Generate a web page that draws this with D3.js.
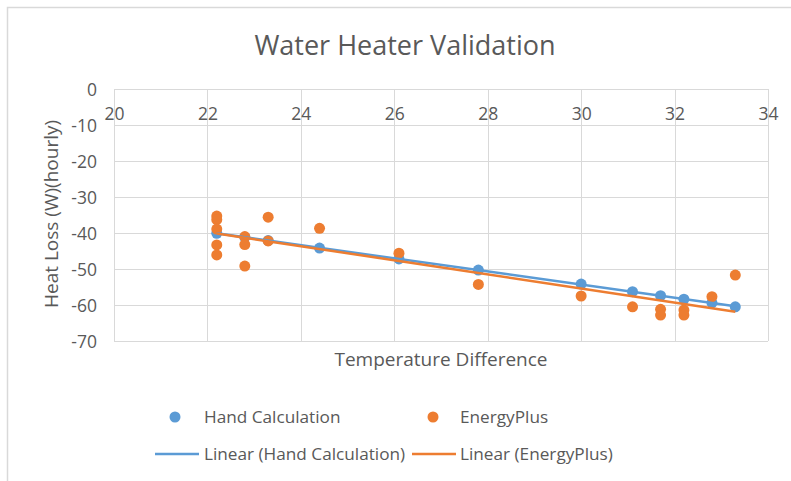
<!DOCTYPE html>
<html>
<head>
<meta charset="utf-8">
<script src="https://cdn.jsdelivr.net/npm/d3@7"></script>
<style>
  html, body { margin: 0; padding: 0; background: #fff; }
  svg { display: block; }
  text { font-family: "Open Sans", "Lato", sans-serif; }
</style>
</head>
<body>
<svg id="chart" width="791" height="481"></svg>
<script>
// ---- Data ----
const chartTitle = "Water Heater Validation";
const xAxisTitle = "Temperature Difference";
const yAxisTitle = "Heat Loss (W)(hourly)";
const xTicks = [20, 22, 24, 26, 28, 30, 32, 34];
const yTicks = [0, -10, -20, -30, -40, -50, -60, -70];

// Hand Calculation series
const handX = [22.2, 22.8, 23.3, 24.4, 26.1, 27.8, 30.0, 31.1, 31.7, 32.2, 32.8, 33.3];
const handY = [-40.1, -41.2, -42.1, -44.2, -47.2, -50.3, -54.2, -56.3, -57.4, -58.4, -59.4, -60.5];

// EnergyPlus series
const epX = [22.2, 22.2, 22.2, 22.2, 22.2, 22.8, 22.8, 22.8, 23.3, 23.3, 24.4, 26.1, 27.8, 30.0, 31.1, 31.7, 31.7, 32.2, 32.2, 32.8, 33.3];
const epY = [-35.3, -36.3, -38.9, -43.3, -46.1, -41.0, -43.2, -49.2, -35.6, -42.2, -38.7, -45.6, -54.3, -57.5, -60.5, -61.2, -62.8, -61.4, -62.8, -57.7, -51.7];

const seriesNames = ["Hand Calculation", "EnergyPlus"];
const trendNames = ["Linear (Hand Calculation)", "Linear (EnergyPlus)"];
const colors = ["#5B9BD5", "#ED7D31"];

// ---- Layout ----
const svg = d3.select("#chart");
const plot = { left: 114, right: 768, top: 89, bottom: 341 };

const x = d3.scaleLinear().domain([20, 34]).range([plot.left, plot.right]);
const y = d3.scaleLinear().domain([0, -70]).range([plot.top, plot.bottom]);

// Chart frame (partial, as visible)
svg.append("path")
  .attr("d", `M7.5,481 L7.5,7.5 L791,7.5`)
  .attr("fill", "none").attr("stroke", "#D9D9D9").attr("stroke-width", 1.5);

// Title
svg.append("text")
  .attr("x", 405).attr("y", 55)
  .attr("text-anchor", "middle")
  .attr("font-size", 27).attr("fill", "#595959")
  .text(chartTitle);

// Gridlines
const grid = svg.append("g");
grid.selectAll("line.h").data(yTicks).enter().append("line")
  .attr("x1", plot.left).attr("x2", plot.right)
  .attr("y1", d => Math.round(y(d)) + 0.5).attr("y2", d => Math.round(y(d)) + 0.5)
  .attr("stroke", "#D9D9D9").attr("stroke-width", 1);
grid.selectAll("line.v").data(xTicks).enter().append("line")
  .attr("y1", plot.top).attr("y2", plot.bottom)
  .attr("x1", d => Math.round(x(d)) + 0.5).attr("x2", d => Math.round(x(d)) + 0.5)
  .attr("stroke", "#D9D9D9").attr("stroke-width", 1);

// Axes via d3 axis generators (labels only)
const xAxis = d3.axisBottom(x).tickValues(xTicks).tickSize(0).tickPadding(0).tickFormat(d3.format("d"));
const gx = svg.append("g").attr("transform", `translate(0,${y(0)})`).call(xAxis);
gx.select(".domain").remove();
gx.selectAll("text").attr("font-size", 17.5).attr("fill", "#595959").attr("dy", null).attr("y", 31)
  .attr("font-family", "Open Sans");

const yAxis = d3.axisLeft(y).tickValues(yTicks).tickSize(0).tickPadding(0).tickFormat(d3.format("d"));
const gy = svg.append("g").attr("transform", `translate(97,0)`).call(yAxis);
gy.select(".domain").remove();
gy.selectAll("text").attr("font-size", 17.5).attr("fill", "#595959").attr("x", 0).attr("dy", "0.36em")
  .attr("font-family", "Open Sans").text(d => d === 0 ? "0" : "-" + Math.abs(d));

// Axis titles
svg.append("text")
  .attr("x", 441).attr("y", 366)
  .attr("text-anchor", "middle").attr("font-size", 19).attr("fill", "#595959")
  .text(xAxisTitle);
svg.append("text")
  .attr("transform", `translate(58,214) rotate(-90)`)
  .attr("text-anchor", "middle").attr("font-size", 19).attr("fill", "#595959")
  .text(yAxisTitle);

// Linear regression for trendlines
function linfit(xs, ys) {
  const n = xs.length;
  const mx = d3.mean(xs), my = d3.mean(ys);
  let sxy = 0, sxx = 0;
  for (let i = 0; i < n; i++) { sxy += (xs[i] - mx) * (ys[i] - my); sxx += (xs[i] - mx) ** 2; }
  const b = sxy / sxx, a = my - b * mx;
  const x0 = d3.min(xs), x1 = d3.max(xs);
  return [[x0, a + b * x0], [x1, a + b * x1]];
}

const series = [
  { xs: handX, ys: handY, color: colors[0] },
  { xs: epX, ys: epY, color: colors[1] }
];

const line = d3.line().x(d => x(d[0])).y(d => y(d[1]));

// Points
series.forEach(s => {
  svg.append("g").selectAll("circle")
    .data(s.xs.map((v, i) => [v, s.ys[i]]))
    .enter().append("circle")
    .attr("cx", d => x(d[0])).attr("cy", d => y(d[1]))
    .attr("r", 5.5).attr("fill", s.color);
});

// Trendlines (drawn over the points)
series.forEach(s => {
  svg.append("path")
    .datum(linfit(s.xs, s.ys))
    .attr("d", line)
    .attr("fill", "none").attr("stroke", s.color).attr("stroke-width", 2.5);
});

// Legend
const lg = svg.append("g");
const legendFont = 17.2;
// row 1: markers
[[175, 204], [433, 460]].forEach((p, i) => {
  lg.append("circle").attr("cx", p[0]).attr("cy", 417).attr("r", 5.5).attr("fill", colors[i]);
  lg.append("text").attr("x", p[1]).attr("y", 417).attr("dy", "0.35em")
    .attr("font-size", legendFont).attr("fill", "#595959").text(seriesNames[i]);
});
// row 2: trendlines
[[155, 199, 204], [412, 456, 460]].forEach((p, i) => {
  lg.append("line").attr("x1", p[0]).attr("x2", p[1]).attr("y1", 454).attr("y2", 454)
    .attr("stroke", colors[i]).attr("stroke-width", 2.5);
  lg.append("text").attr("x", p[2]).attr("y", 454).attr("dy", "0.35em")
    .attr("font-size", legendFont).attr("fill", "#595959").text(trendNames[i]);
});
</script>
</body>
</html>
